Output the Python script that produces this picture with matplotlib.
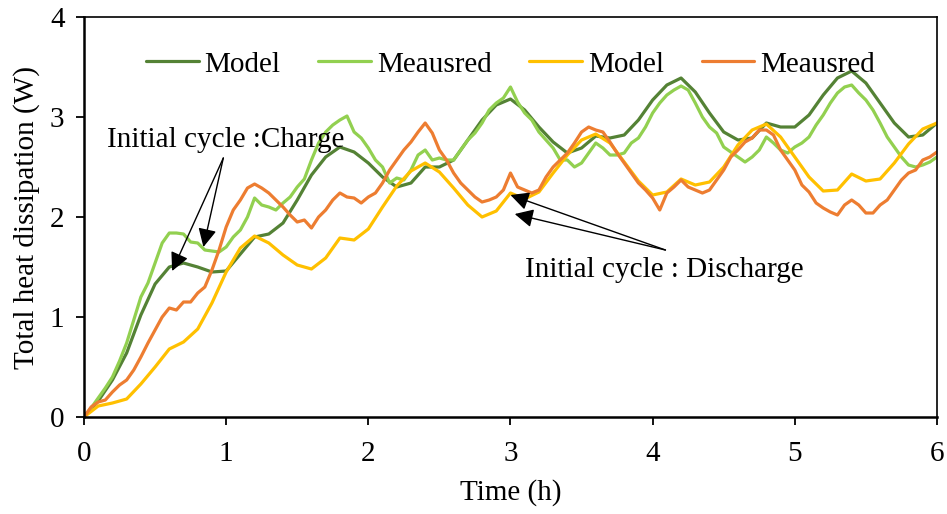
import matplotlib
matplotlib.use('Agg')
import matplotlib.pyplot as plt
import numpy as np

plt.rcParams['font.family'] = ['Liberation Serif', 'DejaVu Serif']
plt.rcParams['mathtext.fontset'] = 'stix'

# Data
t_model = np.round(np.arange(0, 6.001, 0.1), 2)
t_meas = np.round(np.arange(0, 6.001, 0.05), 2)

charge_model = [0, 0.16, 0.37, 0.64, 1.02, 1.33, 1.50, 1.54, 1.50, 1.45,
                1.46, 1.63, 1.80, 1.83, 1.94, 2.17, 2.42, 2.60, 2.70, 2.65,
                2.54, 2.40, 2.30, 2.34, 2.50, 2.50, 2.57, 2.77, 2.97, 3.12,
                3.18, 3.07, 2.90, 2.75, 2.64, 2.69, 2.81, 2.79, 2.82, 2.97,
                3.17, 3.32, 3.39, 3.25, 3.04, 2.85, 2.77, 2.79, 2.94, 2.90,
                2.90, 3.02, 3.22, 3.39, 3.46, 3.34, 3.14, 2.94, 2.80, 2.82,
                2.94]

discharge_model = [0, 0.11, 0.14, 0.18, 0.33, 0.50, 0.68, 0.75, 0.88, 1.14,
                   1.45, 1.69, 1.81, 1.74, 1.62, 1.52, 1.48, 1.59, 1.79, 1.77,
                   1.88, 2.10, 2.31, 2.46, 2.54, 2.45, 2.29, 2.12, 2.00, 2.06,
                   2.24, 2.18, 2.25, 2.44, 2.62, 2.77, 2.83, 2.74, 2.55, 2.36,
                   2.22, 2.25, 2.38, 2.32, 2.35, 2.50, 2.72, 2.87, 2.93, 2.80,
                   2.60, 2.40, 2.26, 2.27, 2.43, 2.36, 2.38, 2.54, 2.73, 2.88,
                   2.94]

charge_meas = [0, 0.09, 0.19, 0.29, 0.40, 0.56, 0.74, 0.97, 1.20, 1.34,
               1.54, 1.74, 1.84, 1.84, 1.83, 1.75, 1.74, 1.67, 1.66, 1.65,
               1.70, 1.80, 1.87, 2.00, 2.19, 2.12, 2.10, 2.07, 2.14, 2.20,
               2.30, 2.38, 2.57, 2.74, 2.85, 2.92, 2.97, 3.01, 2.85, 2.79,
               2.69, 2.57, 2.50, 2.34, 2.39, 2.37, 2.47, 2.62, 2.67, 2.57,
               2.59, 2.57, 2.57, 2.67, 2.77, 2.84, 2.94, 3.07, 3.14, 3.19,
               3.30, 3.15, 3.04, 2.97, 2.85, 2.77, 2.69, 2.57, 2.57, 2.50,
               2.54, 2.64, 2.74, 2.69, 2.62, 2.62, 2.64, 2.74, 2.79, 2.90,
               3.04, 3.14, 3.22, 3.27, 3.31, 3.27, 3.14, 3.00, 2.90, 2.84,
               2.70, 2.65, 2.60, 2.55, 2.60, 2.67, 2.80, 2.74, 2.67, 2.64,
               2.70, 2.74, 2.80, 2.92, 3.02, 3.14, 3.24, 3.30, 3.32, 3.24,
               3.17, 3.07, 2.94, 2.80, 2.70, 2.60, 2.52, 2.50, 2.52, 2.55,
               2.60]

discharge_meas = [0, 0.10, 0.15, 0.17, 0.25, 0.32, 0.37, 0.47, 0.60, 0.74,
                  0.87, 1.00, 1.09, 1.07, 1.15, 1.15, 1.24, 1.30, 1.47, 1.67,
                  1.90, 2.07, 2.17, 2.29, 2.33, 2.29, 2.24, 2.17, 2.10, 2.02,
                  1.95, 1.97, 1.89, 2.00, 2.07, 2.17, 2.24, 2.20, 2.19, 2.14,
                  2.20, 2.24, 2.34, 2.47, 2.57, 2.67, 2.75, 2.85, 2.94, 2.84,
                  2.67, 2.57, 2.44, 2.34, 2.27, 2.20, 2.15, 2.17, 2.20, 2.27,
                  2.44, 2.30, 2.27, 2.24, 2.27, 2.40, 2.50, 2.57, 2.64, 2.74,
                  2.85, 2.90, 2.87, 2.85, 2.75, 2.64, 2.54, 2.44, 2.34, 2.27,
                  2.19, 2.07, 2.24, 2.30, 2.37, 2.30, 2.27, 2.24, 2.27, 2.37,
                  2.47, 2.60, 2.67, 2.75, 2.79, 2.87, 2.87, 2.82, 2.67, 2.57,
                  2.47, 2.32, 2.25, 2.14, 2.09, 2.05, 2.02, 2.12, 2.17, 2.12,
                  2.04, 2.04, 2.12, 2.17, 2.27, 2.37, 2.44, 2.47, 2.57, 2.60,
                  2.65]

fs = 21

fig = plt.figure(figsize=(9.47, 5.14), dpi=100)
ax = fig.add_axes([0.0887, 0.1887, 0.9007, 0.7782])

lw = 2.3
style = dict(lw=lw, solid_joinstyle='round', solid_capstyle='round')
ax.plot(t_model, charge_model, color='#548235', label='Model', **style)
ax.plot(t_meas, charge_meas, color='#92D050', label='Meausred', **style)
ax.plot(t_model, discharge_model, color='#FFC000', label='Model', **style)
ax.plot(t_meas, discharge_meas, color='#ED7D31', label='Meausred', **style)

ax.set_xlim(0, 6)
ax.set_ylim(0, 4)
ax.set_xticks([0, 1, 2, 3, 4, 5, 6])
ax.set_yticks([0, 1, 2, 3, 4])
ax.tick_params(axis='both', labelsize=fs, direction='out', length=6, width=1.3)
ax.tick_params(axis='x', pad=11)
ax.tick_params(axis='y', pad=8)
for s in ['left', 'bottom']:
    ax.spines[s].set_linewidth(1.8)
for s in ['top', 'right']:
    ax.spines[s].set_linewidth(1.2)

ax.set_xlabel('Time (h)', fontsize=fs, labelpad=9)
ax.set_ylabel('Total heat dissipation (W)', fontsize=fs, labelpad=7)

ax.legend(loc='upper center', ncol=4, frameon=False, fontsize=fs,
          handlelength=1.8, handletextpad=0.2, columnspacing=1.3,
          bbox_to_anchor=(0.5, 0.98))

arrow = dict(arrowstyle='-|>', color='black', lw=1.0, mutation_scale=28,
             shrinkA=0, shrinkB=0)
ax.annotate('', xy=(0.62, 1.46), xytext=(0.98, 2.59), arrowprops=arrow)
ax.annotate('', xy=(0.84, 1.70), xytext=(0.98, 2.59), arrowprops=arrow)
ax.text(1.0, 2.77, 'Initial cycle :Charge', fontsize=fs, ha='center', va='center')

ax.annotate('', xy=(3.0, 2.22), xytext=(4.09, 1.67), arrowprops=arrow)
ax.annotate('', xy=(3.03, 2.03), xytext=(4.09, 1.67), arrowprops=arrow)
ax.text(4.08, 1.47, 'Initial cycle : Discharge', fontsize=fs, ha='center', va='center')

fig.savefig('out.png', dpi=100)
